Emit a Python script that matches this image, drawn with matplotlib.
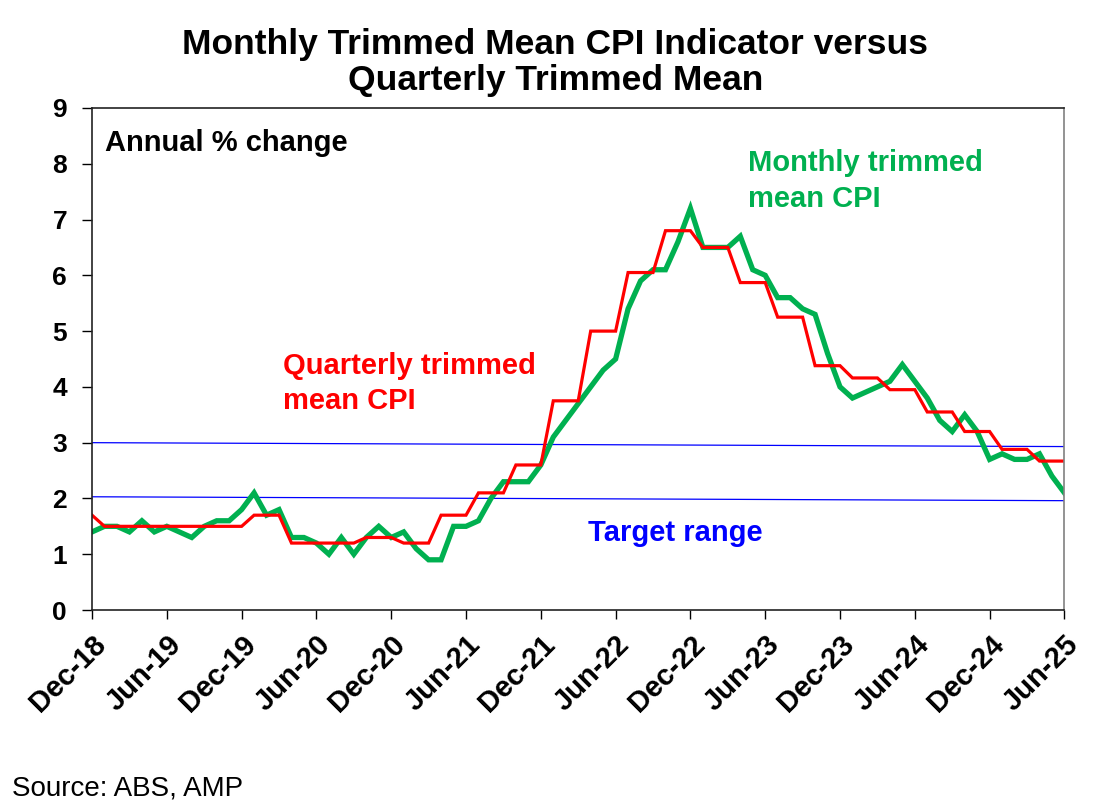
import matplotlib
matplotlib.use("Agg")
import matplotlib.pyplot as plt
import numpy as np

plt.rcParams['font.family'] = ['Liberation Sans', 'DejaVu Sans']

# --- DATOS ---
# Monthly trimmed mean CPI, Dec-18 .. Jun-25 (annual % change)
mensual = [1.4, 1.5, 1.5, 1.4, 1.6, 1.4, 1.5, 1.4, 1.3, 1.5, 1.6, 1.6,
           1.8, 2.1, 1.7, 1.8, 1.3, 1.3, 1.2, 1.0, 1.3, 1.0, 1.3, 1.5,
           1.3, 1.4, 1.1, 0.9, 0.9, 1.5, 1.5, 1.6, 2.0, 2.3, 2.3, 2.3,
           2.6, 3.1, 3.4, 3.7, 4.0, 4.3, 4.5, 5.4, 5.9, 6.1, 6.1, 6.6,
           7.2, 6.5, 6.5, 6.5, 6.7, 6.1, 6.0, 5.6, 5.6, 5.4, 5.3, 4.6,
           4.0, 3.8, 3.9, 4.0, 4.1, 4.4, 4.1, 3.8, 3.4, 3.2, 3.5, 3.2,
           2.7, 2.8, 2.7, 2.7, 2.8, 2.4, 2.1]

# Quarterly trimmed mean: Q4-18 (Dec-18 only), then Q1-19 .. Q2-25
trimestral_q4_18 = 1.7
trimestral = [1.5, 1.5, 1.5, 1.5,
              1.7, 1.2, 1.2, 1.3,
              1.2, 1.7, 2.1, 2.6,
              3.75, 5.0, 6.05, 6.8,
              6.5, 5.87, 5.25, 4.38,
              4.16, 3.95, 3.55, 3.2,
              2.88, 2.67]

# Target band lines (start, end)
banda_sup = [3.0, 2.93]
banda_inf = [2.03, 1.96]

etiquetas_x = ['Dec-18', 'Jun-19', 'Dec-19', 'Jun-20', 'Dec-20', 'Jun-21',
               'Dec-21', 'Jun-22', 'Dec-22', 'Jun-23', 'Dec-23', 'Jun-24',
               'Dec-24', 'Jun-25']

# quarterly values held flat over each quarter's three months
trim_mensual = [trimestral_q4_18] + list(np.repeat(trimestral, 3))
meses = np.arange(len(mensual))

# --- GRAFICO ---
fig = plt.figure(figsize=(11.06, 8.10), dpi=100)
ax = fig.add_axes([0.0832, 0.2469, 0.8792, 0.6198])

ax.plot([meses[0], meses[-1]], banda_sup, color='#0000FF', linewidth=0.9)
ax.plot([meses[0], meses[-1]], banda_inf, color='#0000FF', linewidth=0.9)
ax.plot(meses, mensual, color='#00B050', linewidth=3.8, solid_joinstyle='miter')
ax.plot(meses, trim_mensual, color='#FF0000', linewidth=2.3, solid_joinstyle='miter')

ax.set_xlim(0, len(mensual) - 1)
ax.set_ylim(0, 9)
ax.set_yticks(range(10))
ax.set_xticks(np.arange(0, len(mensual), 6))
ax.set_xticklabels(etiquetas_x, rotation=45, ha='right', rotation_mode='anchor')

ax.tick_params(axis='y', direction='out', length=7, width=1, pad=11, labelsize=19)
ax.tick_params(axis='x', direction='out', length=6.5, width=1, pad=8, labelsize=21)
for lab in ax.get_xticklabels() + ax.get_yticklabels():
    lab.set_fontweight('bold')

for lado in ['left', 'bottom', 'top']:
    ax.spines[lado].set_color('#222222')
    ax.spines[lado].set_linewidth(1.2)
ax.spines['right'].set_color('#808080')
ax.spines['right'].set_linewidth(1.2)

# Textos
ax.text(0.0134, 0.930, 'Annual % change', transform=ax.transAxes, fontsize=21,
        fontweight='bold', va='center', ha='left')
ax.text(0.675, 0.855, 'Monthly trimmed\nmean CPI', transform=ax.transAxes, fontsize=21,
        fontweight='bold', color='#00B050', va='center', ha='left', linespacing=1.35)
ax.text(0.1965, 0.452, 'Quarterly trimmed\nmean CPI', transform=ax.transAxes, fontsize=21,
        fontweight='bold', color='#FF0000', va='center', ha='left', linespacing=1.32)
ax.text(0.510, 0.153, 'Target range', transform=ax.transAxes, fontsize=21,
        fontweight='bold', color='#0000FF', va='center', ha='left')

fig.text(0.502, 0.923, 'Monthly Trimmed Mean CPI Indicator versus\nQuarterly Trimmed Mean',
         ha='center', va='center', fontsize=25.5, fontweight='bold', linespacing=1.12)
fig.text(0.011, 0.027, 'Source: ABS, AMP', ha='left', va='center', fontsize=20)

fig.savefig('out.png', dpi=100)
